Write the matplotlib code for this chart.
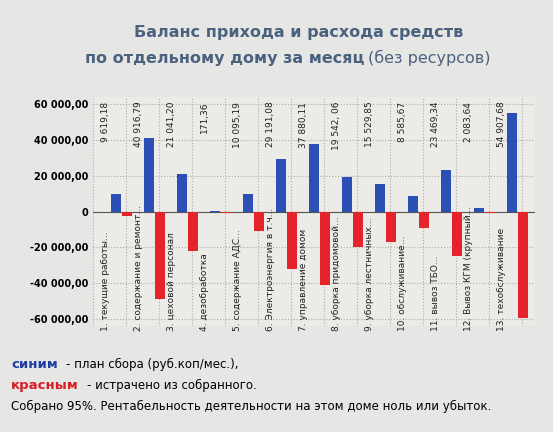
import matplotlib.pyplot as plt
import numpy as np

categories = ['1. текущие работы...', '2. содержание и ремонт...', '3. цеховой персонал',
              '4. дезобработка', '5. содержание АДС...', '6. Электроэнергия в т.ч...',
              '7. управление домом', '8. уборка придомовой...', '9. уборка лестничных...',
              '10. обслуживание...', '11. вывоз ТБО...', '12. Вывоз КГМ (крупный...',
              '13. техобслуживание']
plan = [9619.18, 40916.79, 21041.20, 171.36, 10095.19, 29191.08, 37880.11,
        19542.06, 15529.85, 8585.67, 23469.34, 2083.64, 54907.68]
plan_labels = ['9 619,18', '40 916,79', '21 041,20', '171,36', '10 095,19', '29 191,08',
               '37 880,11', '19 542, 06', '15 529,85', '8 585,67', '23 469,34',
               '2 083,64', '54 907,68']
spent = [-2500, -49000, -22000, -1000, -11000, -32000, -41000, -20000, -17000,
         -9000, -25000, -1000, -59500]
yticks = [60000, 40000, 20000, 0, -20000, -40000, -60000]
ytick_labels = ['60 000,00', '40 000,00', '20 000,00', '0', '-20 000,00', '-40 000,00', '-60 000,00']

fig = plt.figure(figsize=(5.53, 4.32), dpi=100, facecolor='#e6e6e4')
ax = fig.add_axes([0.168, 0.245, 0.8, 0.53], facecolor='#ecebe8')

x = np.arange(len(categories))
ax.bar(x + 0.05, plan, width=0.3, color='#2a4fb5', align='edge', zorder=3)
ax.bar(x + 0.38, spent, width=0.3, color='#e5232a', align='edge', zorder=3)

for i in x:
    ax.text(i - 0.12, 61500, plan_labels[i], rotation=90, ha='center', va='top',
            fontsize=6.5, color='#222222', zorder=4)
    ax.text(i - 0.12, -66500, categories[i], rotation=90, ha='center', va='bottom',
            fontsize=6.5, color='#222222', zorder=4, clip_on=False)

ax.set_xlim(-0.5, 12.9)
ax.set_ylim(-64000, 64000)
ax.set_yticks(yticks)
ax.set_yticklabels(ytick_labels, fontsize=7, fontweight='bold')
ax.set_xticks(np.arange(-0.5, 13, 1))
ax.set_xticklabels([])
ax.tick_params(length=0)
ax.grid(True, color='#aaaaaa', linestyle=':', linewidth=0.8, zorder=0)
ax.axhline(0, color='#555555', linewidth=0.8, zorder=2)
for s in ax.spines.values():
    s.set_visible(False)

fig.text(0.54, 0.925, 'Баланс прихода и расхода средств', ha='center', va='center',
         fontsize=11.5, fontweight='bold', color='#4a6180')
fig.text(0.66, 0.865, 'по отдельному дому за месяц', ha='right', va='center',
         fontsize=11.5, fontweight='bold', color='#4a6180')
fig.text(0.665, 0.865, '(без ресурсов)', ha='left', va='center',
         fontsize=11.5, color='#4a6180')

fig.text(0.02, 0.148, 'синим', fontsize=9.5, fontweight='bold', color='#1f3fa0')
fig.text(0.12, 0.148, '- план сбора (руб.коп/мес.),', fontsize=8.5, color='black')
fig.text(0.02, 0.1, 'красным', fontsize=9.5, fontweight='bold', color='#d81e25')
fig.text(0.158, 0.1, '- истрачено из собранного.', fontsize=8.5, color='black')
fig.text(0.02, 0.052, 'Собрано 95%. Рентабельность деятельности на этом доме ноль или убыток.',
         fontsize=8.5, color='black')

fig.savefig('out.png', dpi=100, facecolor=fig.get_facecolor())
